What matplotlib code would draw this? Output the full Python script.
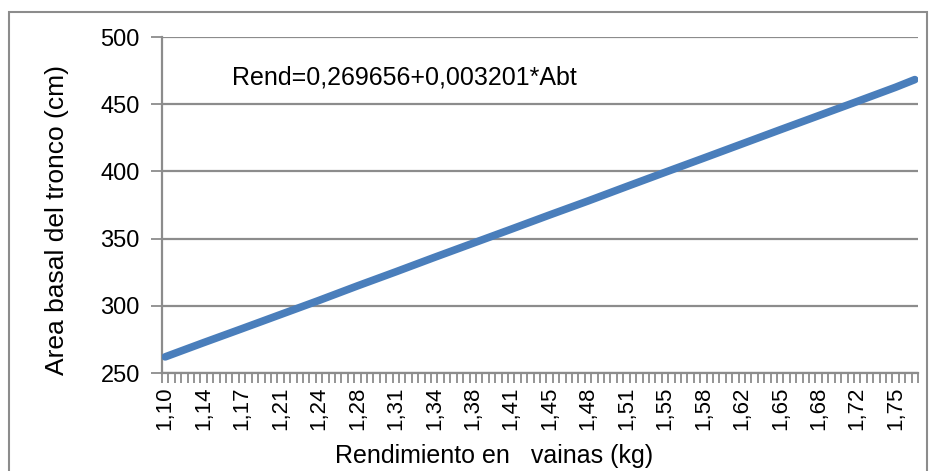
"""
plot.py
"""
import matplotlib
matplotlib.use('Agg')
import matplotlib.pyplot as plt
from matplotlib.patches import Rectangle

# Etiquetas del eje x (rendimiento en vainas, kg)
rend_labels = ['1,10', '1,14', '1,17', '1,21', '1,24', '1,28', '1,31',
               '1,34', '1,38', '1,41', '1,45', '1,48', '1,51', '1,55',
               '1,58', '1,62', '1,65', '1,68', '1,72', '1,75']
abt = [262, 272.6, 283, 293.5, 304, 314.8, 325.3, 336, 346.5, 357,
       367.6, 378, 388.7, 399.3, 409.8, 420.4, 431, 441.5, 452, 462.6]
# Ultima categoria (sin etiqueta)
abt_last = 468.3

cats_per_label = 6
n_cats = 118
GRAY = '#8c8c8c'
BLUE = '#4a7ebb'
W, H = 936, 471

fig = plt.figure(figsize=(W / 100, H / 100), dpi=100)
ax = fig.add_axes([162 / W, 1 - 373 / H, (918 - 162) / W, (373 - 37) / H])

# Marco del grafico
fig.patches.append(Rectangle((9 / W, -0.1), (927 - 9) / W, 1 - 12 / H + 0.1,
                             transform=fig.transFigure, fill=False,
                             edgecolor=GRAY, linewidth=1.5))

xs = [0.5 + cats_per_label * i for i in range(len(abt))] + [n_cats - 0.5]
ys = abt + [abt_last]
ax.plot(xs, ys, color=BLUE, linewidth=5.5, solid_capstyle='round',
        solid_joinstyle='round', zorder=3)

ax.set_xlim(0, n_cats)
ax.set_ylim(250, 500)
ax.set_yticks(range(250, 501, 50))
ax.grid(axis='y', color=GRAY, linewidth=1.6)
ax.set_axisbelow(True)

ax.set_xticks(xs[:-1])
ax.set_xticklabels(rend_labels, rotation=90, fontsize=16, family='Liberation Sans')
ax.set_xticks(range(0, n_cats + 1), minor=True)
ax.tick_params(axis='x', which='major', length=0, pad=10)
ax.tick_params(axis='x', which='minor', length=7, width=1.3, color=GRAY)
ax.tick_params(axis='y', length=8, width=1.3, color=GRAY, labelsize=17, pad=8)
for lab in ax.get_yticklabels():
    lab.set_family('Liberation Sans')

for s in ['top', 'right']:
    ax.spines[s].set_visible(False)
for s in ['left', 'bottom']:
    ax.spines[s].set_color(GRAY)
    ax.spines[s].set_linewidth(1.6)

fig.text(57 / W, 1 - 220 / H, 'Area basal del tronco (cm)', rotation=90,
         fontsize=19, family='Liberation Sans', ha='center', va='center')
fig.text(494 / W, 3 / H, 'Rendimiento en   vainas (kg)',
         fontsize=18, family='Liberation Sans', ha='center', va='bottom')

fig.text(232 / W, 1 - 78 / H, 'Rend=0,269656+0,003201*Abt', fontsize=18,
         family='Liberation Sans', va='center', ha='left')

fig.savefig('out.png', dpi=100)
